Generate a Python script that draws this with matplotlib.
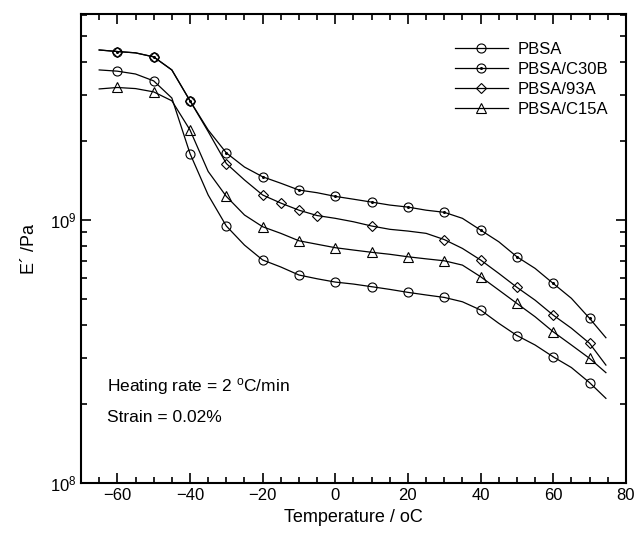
import numpy as np
import matplotlib
matplotlib.use("Agg")
import matplotlib.pyplot as plt
from matplotlib.ticker import MultipleLocator, LogLocator, NullFormatter

plt.rcParams['font.family'] = ['Liberation Sans', 'DejaVu Sans']
plt.rcParams['mathtext.fontset'] = 'custom'
plt.rcParams['mathtext.rm'] = 'Liberation Sans'
plt.rcParams['mathtext.it'] = 'Liberation Sans:italic'

# temperature (oC), read every 5 degrees off the picture
temp = [-65, -60, -55, -50, -45, -40, -35, -30, -25, -20, -15, -10, -5, 0, 5,
        10, 15, 20, 25, 30, 35, 40, 45, 50, 55, 60, 65, 70, 74.5]

pbsa = [3.72e9, 3.68e9, 3.59e9, 3.38e9, 2.91e9, 1.79e9, 1.245e9, 9.49e8, 8.03e8,
        7.05e8, 6.63e8, 6.18e8, 5.98e8, 5.81e8, 5.71e8, 5.58e8, 5.45e8, 5.31e8,
        5.19e8, 5.08e8, 4.89e8, 4.55e8, 4.05e8, 3.64e8, 3.35e8, 3.02e8, 2.75e8,
        2.41e8, 2.10e8]

c30b = [4.43e9, 4.37e9, 4.32e9, 4.17e9, 3.72e9, 2.84e9, 2.20e9, 1.80e9, 1.59e9,
        1.46e9, 1.38e9, 1.30e9, 1.27e9, 1.23e9, 1.20e9, 1.17e9, 1.14e9, 1.12e9,
        1.09e9, 1.07e9, 1.015e9, 9.16e8, 8.27e8, 7.25e8, 6.55e8, 5.74e8, 5.04e8,
        4.23e8, 3.57e8]

a93 = [4.43e9, 4.37e9, 4.32e9, 4.17e9, 3.72e9, 2.84e9, 2.17e9, 1.64e9, 1.42e9,
       1.245e9, 1.16e9, 1.09e9, 1.04e9, 1.015e9, 9.85e8, 9.49e8, 9.22e8, 9.08e8,
       8.90e8, 8.43e8, 7.80e8, 7.05e8, 6.27e8, 5.55e8, 4.96e8, 4.35e8, 3.88e8,
       3.40e8, 2.81e8]

c15a = [3.15e9, 3.19e9, 3.16e9, 3.07e9, 2.84e9, 2.20e9, 1.53e9, 1.23e9, 1.045e9,
        9.43e8, 8.90e8, 8.34e8, 8.09e8, 7.85e8, 7.69e8, 7.54e8, 7.41e8, 7.25e8,
        7.12e8, 7.00e8, 6.74e8, 6.09e8, 5.42e8, 4.82e8, 4.29e8, 3.76e8, 3.35e8,
        2.98e8, 2.63e8]

every10 = list(range(1, 28, 2))
a93_marks = [1, 3, 5, 7, 9, 10, 11, 12, 15, 19, 21, 23, 25, 27]

fig = plt.figure(figsize=(6.38, 5.38), dpi=100)
ax = fig.add_axes([0.127, 0.102, 0.854, 0.872])

style = dict(color='black', linewidth=0.9, markersize=6.5, markerfacecolor='none',
             markeredgecolor='black', markeredgewidth=0.8)

l1, = ax.plot(temp, pbsa, marker='o', markevery=every10, **style)
l2, = ax.plot(temp, c30b, marker='o', markevery=every10, **style)
d2, = ax.plot([temp[i] for i in every10], [c30b[i] for i in every10],
              linestyle='none', marker='o', markersize=1.2, color='black')
l3, = ax.plot(temp, a93, marker='D', markevery=a93_marks,
              **{**style, 'markersize': 5.2})
l4, = ax.plot(temp, c15a, marker='^', markevery=every10, **style)

ax.set_yscale('log')
ax.set_xlim(-70, 80)
ax.set_ylim(1e8, 6.07e9)

ax.xaxis.set_major_locator(MultipleLocator(20))
ax.xaxis.set_minor_locator(MultipleLocator(5))
ax.yaxis.set_major_locator(LogLocator(base=10, numticks=10))
ax.yaxis.set_minor_locator(LogLocator(base=10, subs=np.arange(2, 10), numticks=10))
ax.yaxis.set_minor_formatter(NullFormatter())

ax.tick_params(which='both', direction='in', top=True, right=True, width=1.2,
               labelsize=12)
ax.tick_params(which='major', length=7)
ax.tick_params(which='minor', length=4)
for s in ax.spines.values():
    s.set_linewidth(1.5)

ax.set_xlabel('Temperature / oC', fontsize=13)
ax.set_ylabel('E\u00b4 /Pa', fontsize=13, labelpad=8)

ax.text(0.048, 0.205, r'Heating rate = 2 $^{\mathrm{o}}$C/min', transform=ax.transAxes,
        fontsize=12.5, va='center')
ax.text(0.048, 0.14, 'Strain = 0.02%', transform=ax.transAxes,
        fontsize=12.5, va='center')

ax.legend([l1, (l2, d2), l3, l4], ['PBSA', 'PBSA/C30B', 'PBSA/93A', 'PBSA/C15A'],
          loc='upper left', bbox_to_anchor=(0.686, 0.94), frameon=False,
          borderpad=0, borderaxespad=0,
          fontsize=12, handlelength=3.2, handletextpad=0.55, labelspacing=0.3)

fig.savefig('out.png', dpi=100)
